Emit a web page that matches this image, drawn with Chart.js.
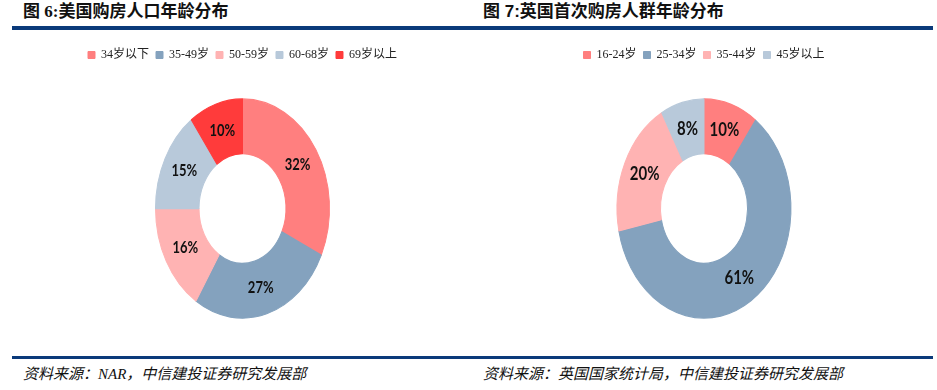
<!DOCTYPE html>
<html>
<head>
<meta charset="utf-8">
<script src="https://cdn.jsdelivr.net/npm/chart.js@4.4.0/dist/chart.umd.min.js"></script>
<style>
  body { margin: 0; width: 937px; height: 390px; background: #fff; position: relative; overflow: hidden; }
  .title { position: absolute; top: 0; font-size: 17px; font-weight: bold; line-height: 23px; color: #111; white-space: nowrap; }
  .rule { position: absolute; left: 12px; width: 921px; background: #0a3a7a; }
  .src { position: absolute; top: 364px; font-size: 15px; font-style: italic; line-height: 20px; color: #111; white-space: nowrap;
         font-family: 'Liberation Serif', 'Noto Sans CJK SC', serif; }
  canvas { position: absolute; }
</style>
</head>
<body>
<div class="title" style="left:23px;font-family:'Liberation Serif','Noto Sans CJK SC',serif">图 6:美国购房人口年龄分布</div>
<div class="title" style="left:483px;font-family:'Liberation Sans','Noto Sans CJK SC',sans-serif">图 7:英国首次购房人群年龄分布</div>
<div class="rule" style="top:26px;height:4px"></div>
<div class="rule" style="top:356px;height:3px"></div>

<canvas id="usChart" width="485" height="326" style="left:0;top:20px"></canvas>
<canvas id="ukChart" width="468" height="326" style="left:470px;top:20px"></canvas>

<div class="src" style="left:23px">资料来源：NAR，中信建投证券研究发展部</div>
<div class="src" style="left:483px">资料来源：英国国家统计局，中信建投证券研究发展部</div>

<script>
// US buyers by age (%)
const usLabels = ['34岁以下', '35-49岁', '50-59岁', '60-68岁', '69岁以上'];
const usValues = [32, 27, 16, 15, 10];
const usColors = ['#ff7f7f', '#84a2be', '#ffb3b3', '#b8c9da', '#ff3b3b'];

// UK first-time buyers by age (%)
const ukLabels = ['16-24岁', '25-34岁', '35-44岁', '45岁以上'];
const ukValues = [10, 61, 20, 8];
const ukColors = ['#ff7f7f', '#84a2be', '#ffb3b3', '#b8c9da'];

// the original donuts are stretched vertically, so draw the rings (and their labels) scaled in y
const stretchPlugin = {
    id: 'stretch',
    beforeDatasetsDraw: function(chart, args, opts) {
        const arc = chart.getDatasetMeta(0).data[0];
        const ctx = chart.ctx;
        ctx.save();
        ctx.translate(0, arc.y);
        ctx.scale(1, opts.factor);
        ctx.translate(0, -arc.y);
    },
    afterDatasetsDraw: function(chart, args, opts) {
        const ctx = chart.ctx;
        const values = chart.data.datasets[0].data;
        ctx.font = 'bold ' + opts.fontSize + 'px Lato, "Open Sans", sans-serif';
        ctx.fillStyle = '#111';
        ctx.textAlign = 'center';
        ctx.textBaseline = 'middle';
        chart.getDatasetMeta(0).data.forEach((arc, i) => {
            const p = arc.tooltipPosition();
            ctx.fillText(values[i] + '%', p.x, p.y);
        });
        ctx.restore();
    }
};

function makeDonut(id, labels, values, colors, legendFont, labelSize) {
    const ctx = document.getElementById(id).getContext('2d');
    return new Chart(ctx, {
        type: 'doughnut',
        data: {
            labels: labels,
            datasets: [{
                data: values,
                backgroundColor: colors,
                borderColor: colors,
                borderWidth: 1,
                clip: false
            }]
        },
        options: {
            responsive: false,
            animation: false,
            radius: 87,
            cutout: '50%',
            layout: { padding: { top: 22, bottom: 0 } },
            plugins: {
                legend: {
                    position: 'top',
                    labels: {
                        boxWidth: 7,
                        boxHeight: 7,
                        padding: 7,
                        color: '#222',
                        font: { size: 12, family: legendFont }
                    }
                },
                tooltip: { enabled: false },
                stretch: { factor: 1.26, fontSize: labelSize }
            }
        },
        plugins: [stretchPlugin]
    });
}

makeDonut('usChart', usLabels, usValues, usColors, "'Liberation Serif', 'Noto Sans CJK SC', serif", 13);
makeDonut('ukChart', ukLabels, ukValues, ukColors, "'Liberation Serif', 'Noto Sans CJK SC', serif", 15);
</script>
</body>
</html>
